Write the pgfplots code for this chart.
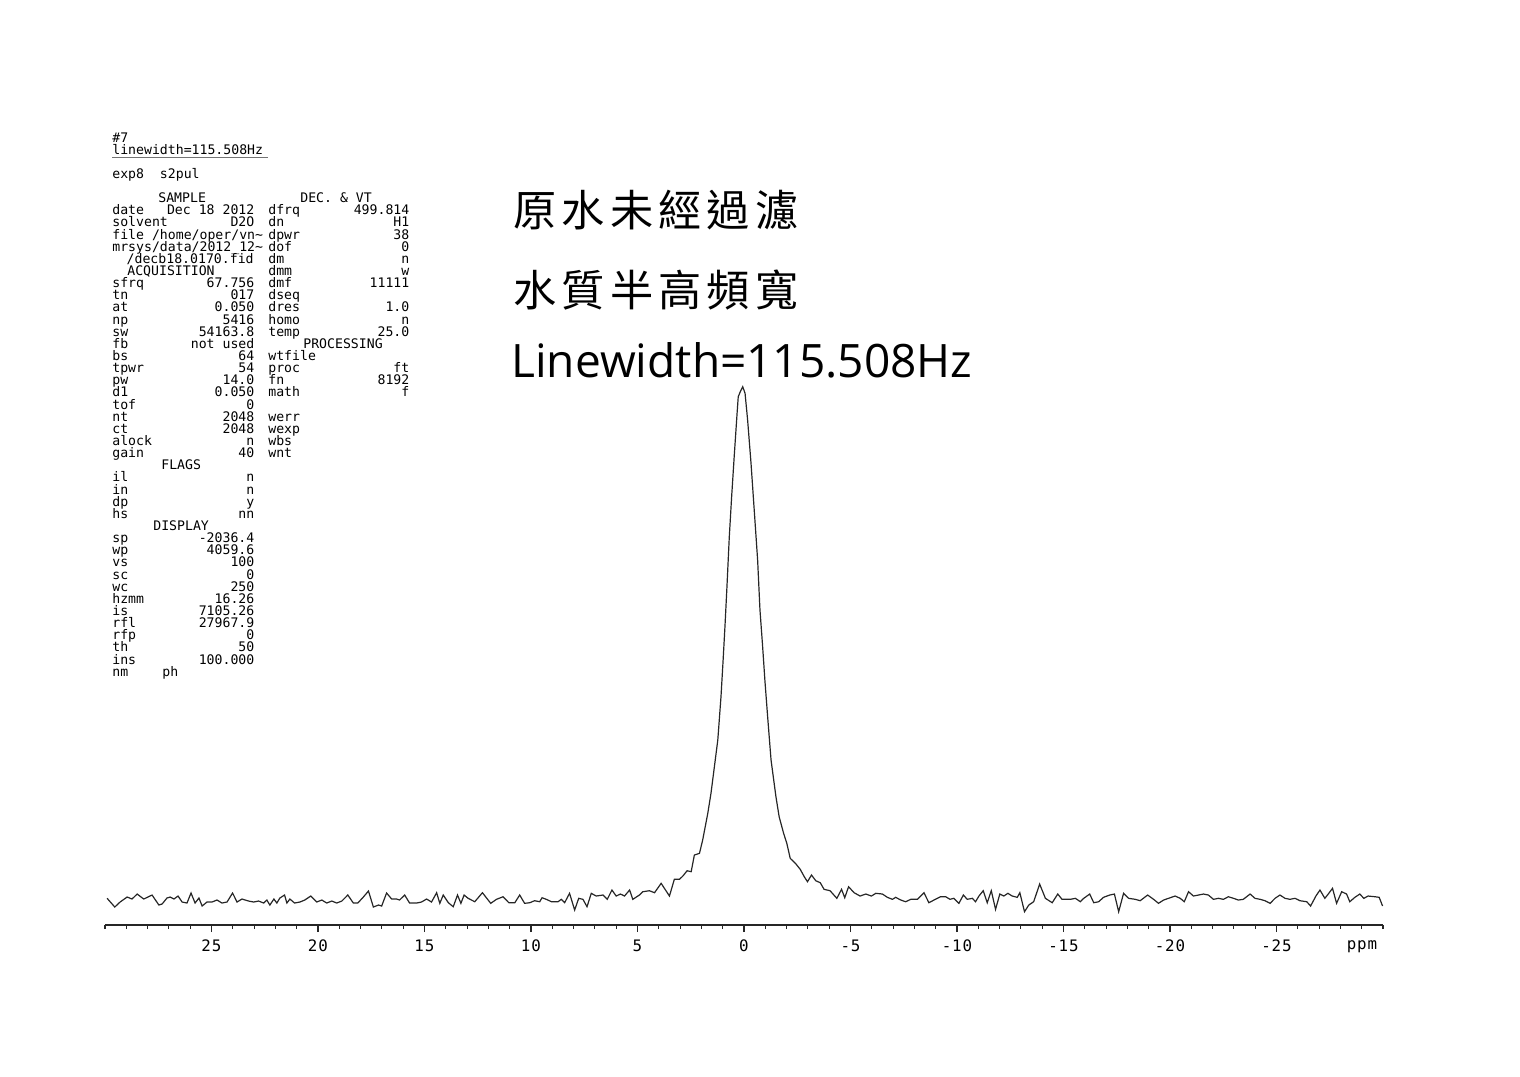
\documentclass[border=0pt]{standalone}
\usepackage{pgfplots}
\pgfplotsset{compat=1.18}
\usepackage{fontspec}
\setmonofont{DejaVu Sans Mono}
\newfontfamily\cjktitle[LetterSpace=12]{Noto Sans CJK TC}
\newfontfamily\latintitle{Open Sans}
\newfontfamily\tickfamily[LetterSpace=6]{DejaVu Sans Mono}
\newlength\pxu \setlength\pxu{0.2mm}
\newcommand\pfont{\ttfamily\fontsize{7.5pt}{7.5pt}\selectfont}
\newcommand\tfont{\tickfamily\fontsize{9pt}{9pt}\selectfont}
% parameter listing helpers (pixel coordinates, y downward)
\newcommand\Lrow[3]{\node[anchor=base west,inner sep=0pt,font=\pfont] at (112,{142+12.14*#1}) {\makebox[142\pxu][l]{#2\hfill #3}};}
\newcommand\Rrow[3]{\node[anchor=base west,inner sep=0pt,font=\pfont] at (268,{142+12.14*#1}) {\makebox[141\pxu][l]{#2\hfill #3}};}
\newcommand\Trow[3]{\node[anchor=base west,inner sep=0pt,font=\pfont] at (#2,{142+12.14*#1}) {#3};}
\begin{document}
\begin{tikzpicture}
\begin{scope}[x=0.2mm,y=-0.2mm]
\path[use as bounding box] (0,0) rectangle (1520,1076);
% header lines
\Trow{0}{112}{\#7}
\Trow{1}{112}{linewidth=115.508Hz}
\draw[black!55, line width=0.15mm] (112,157) -- (268,157);
\Trow{3}{112}{exp8\ \ s2pul}
\Trow{5}{158}{SAMPLE}
\Trow{5}{300}{DEC. \& VT}
\Lrow{6}{date}{Dec 18 2012}
\Lrow{7}{solvent}{D2O}
\Trow{8}{112}{file /home/oper/vn\textasciitilde}
\Trow{9}{112}{mrsys/data/2012\_12\textasciitilde}
\node[anchor=base east,inner sep=0pt,font=\pfont] at (254,{142+12.14*10}) {/decb18.0170.fid};
\Trow{11}{127}{ACQUISITION}
\Lrow{12}{sfrq}{67.756}
\Lrow{13}{tn}{017}
\Lrow{14}{at}{0.050}
\Lrow{15}{np}{5416}
\Lrow{16}{sw}{54163.8}
\Lrow{17}{fb}{not used}
\Lrow{18}{bs}{64}
\Lrow{19}{tpwr}{54}
\Lrow{20}{pw}{14.0}
\Lrow{21}{d1}{0.050}
\Lrow{22}{tof}{0}
\Lrow{23}{nt}{2048}
\Lrow{24}{ct}{2048}
\Lrow{25}{alock}{n}
\Lrow{26}{gain}{40}
\Trow{27}{161}{FLAGS}
\Lrow{28}{il}{n}
\Lrow{29}{in}{n}
\Lrow{30}{dp}{y}
\Lrow{31}{hs}{nn}
\Trow{32}{153}{DISPLAY}
\Lrow{33}{sp}{-2036.4}
\Lrow{34}{wp}{4059.6}
\Lrow{35}{vs}{100}
\Lrow{36}{sc}{0}
\Lrow{37}{wc}{250}
\Lrow{38}{hzmm}{16.26}
\Lrow{39}{is}{7105.26}
\Lrow{40}{rfl}{27967.9}
\Lrow{41}{rfp}{0}
\Lrow{42}{th}{50}
\Lrow{43}{ins}{100.000}
\Trow{44}{112}{nm}
\Trow{44}{162}{ph}
% right column
\Rrow{6}{dfrq}{499.814}
\Rrow{7}{dn}{H1}
\Rrow{8}{dpwr}{38}
\Rrow{9}{dof}{0}
\Rrow{10}{dm}{n}
\Rrow{11}{dmm}{w}
\Rrow{12}{dmf}{11111}
\Rrow{13}{dseq}{}
\Rrow{14}{dres}{1.0}
\Rrow{15}{homo}{n}
\Rrow{16}{temp}{25.0}
\Trow{17}{303}{PROCESSING}
\Rrow{18}{wtfile}{}
\Rrow{19}{proc}{ft}
\Rrow{20}{fn}{8192}
\Rrow{21}{math}{f}
\Rrow{23}{werr}{}
\Rrow{24}{wexp}{}
\Rrow{25}{wbs}{}
\Rrow{26}{wnt}{}
% titles
\node[anchor=base west,inner sep=0pt,font=\cjktitle\fontsize{24.6pt}{24.6pt}\selectfont] at (513,226) {原水未經過濾};
\node[anchor=base west,inner sep=0pt,font=\cjktitle\fontsize{24.6pt}{24.6pt}\selectfont] at (513,306) {水質半高頻寬};
\node[anchor=base west,inner sep=0pt,font=\latintitle\fontsize{26.2pt}{26.2pt}\selectfont] at (511,377) {Linewidth=115.508Hz};
% ppm label
\node[anchor=base,inner sep=0pt,font=\tfont] at (1362,949) {ppm};
\end{scope}
\begin{axis}[
  at={(21mm,-185mm)}, anchor=south west,
  scale only axis, width=255.6mm, height=107.8mm,
  xmin=-30, xmax=30, x dir=reverse,
  ymin=-27, ymax=512,
  axis x line*=bottom, axis y line=none, ytick=\empty,
  xtick={-25,-20,-15,-10,-5,0,5,10,15,20,25},
  xticklabels={-25,-20,-15,-10,-5,0,5,10,15,20,25},
  minor xtick={-30,-29,...,30},
  tick align=outside,
  major tick length=1.4mm, minor tick length=0.8mm,
  tick style={black!85, line width=0.22mm},
  x axis line style={black!85, line width=0.3mm},
  xticklabel style={font=\tfont, anchor=north, inner sep=0pt, yshift=-1.5mm},
  clip=false,
]
\addplot[black!85, line width=0.24mm, mark=none] coordinates {
(29.90,-0.3)(29.54,-9)(29.29,-4)(28.96,1)(28.73,-1)(28.49,4)(28.18,-1)(27.79,3)(27.47,-7)(27.32,-6)(27.09,0)(26.94,1)(26.76,-1)(26.57,2)(26.38,-4)(26.15,-5)(25.96,5)(25.77,-5)(25.59,0)(25.44,-8)(25.21,-4)(24.98,-4)(24.74,-2)(24.51,-5)(24.27,-4)(24.01,5)(23.80,-4)(23.57,-1)(23.26,-3)(23.02,-4)(22.79,-3)(22.55,-5)(22.40,-2)(22.26,-7)(22.07,-1)(21.93,-5)(21.79,0)(21.57,3)(21.46,-5)(21.32,-1)(21.10,-5)(20.85,-4)(20.62,-2)(20.34,2)(20.06,-4)(19.82,-2)(19.59,-5)(19.35,-3)(19.12,-5)(18.88,-3)(18.60,3)(18.34,-5)(18.13,-5)(17.87,1)(17.63,7)(17.40,-9)(17.16,-7)(17.01,-8)(16.78,5)(16.54,-1)(16.31,-1)(16.17,-2)(15.93,3)(15.70,-5)(15.37,-5)(15.14,-4)(14.90,-1)(14.67,-4)(14.43,5.3)(14.28,-5.3)(14.12,3)(13.88,-4.7)(13.65,-8.7)(13.45,3)(13.29,-5.3)(13.14,3)(12.95,-0.3)(12.64,-3.7)(12.28,5.3)(11.89,-5.3)(11.62,-1.3)(11.31,1.3)(11.04,-4.7)(10.76,-4.7)(10.53,3)(10.30,-5.3)(10.06,-4.7)(9.83,-2.7)(9.59,-3.7)(9.48,0.3)(9.28,-1.3)(9.04,-3.7)(8.73,-3.7)(8.58,-1.3)(8.42,-4.7)(8.19,4.7)(7.95,-12)(7.76,-0.3)(7.56,-1.3)(7.37,-8.7)(7.17,4.7)(6.94,2)(6.62,3)(6.42,-1.3)(6.20,8)(6.00,2)(5.80,4)(5.61,2)(5.37,8)(5.22,-1.3)(4.91,3)(4.75,6.3)(4.44,7.3)(4.20,5.3)(3.89,14.7)(3.50,2)(3.27,18.7)(3.03,18.7)(2.87,22)(2.67,27.3)(2.48,26.3)(2.33,43)(2.09,44.7)(1.94,58)(1.70,84.7)(1.55,104.7)(1.39,131.3)(1.23,158)(1.08,201.3)(0.98,238)(0.89,273)(0.80,311.3)(0.69,361.3)(0.58,401.3)(0.45,444.7)(0.33,483)(0.27,501.3)(0.16,507)(0.06,511.3)(-0.05,504.7)(-0.17,478)(-0.33,434.7)(-0.48,388)(-0.64,338)(-0.75,288)(-0.87,253)(-0.98,218)(-1.11,181.3)(-1.27,138)(-1.50,101.3)(-1.65,81.3)(-1.86,64.7)(-2.01,54.7)(-2.17,39.7)(-2.44,34)(-2.64,28.7)(-2.83,21.3)(-2.98,16.3)(-3.17,23)(-3.37,17.3)(-3.58,15.3)(-3.76,8.7)(-4.04,7.3)(-4.36,-0.3)(-4.58,8.7)(-4.73,0.3)(-4.91,11.3)(-5.17,5.3)(-5.45,2)(-5.72,4)(-5.98,2)(-6.19,4.7)(-6.50,4)(-6.73,0.7)(-6.97,-1.3)(-7.12,0.7)(-7.36,-2)(-7.59,-3.7)(-7.83,-1.3)(-8.14,-1.3)(-8.45,5.3)(-8.68,-4.7)(-8.92,-2)(-9.23,1.3)(-9.47,1.3)(-9.67,-1.3)(-9.85,-0.3)(-10.09,-5.3)(-10.30,3)(-10.48,-1.3)(-10.72,-0.3)(-10.87,-3.7)(-11.03,2)(-11.23,7.3)(-11.42,-4.7)(-11.61,7.3)(-11.81,-11.3)(-12.01,4)(-12.20,2)(-12.39,4.7)(-12.59,2)(-12.83,0.7)(-12.95,5.3)(-13.17,-13.7)(-13.37,-7)(-13.60,-3.7)(-13.88,14)(-14.15,-0.3)(-14.47,-4.7)(-14.73,4)(-14.93,-1.3)(-15.32,-1.3)(-15.56,-0.3)(-15.79,-3.7)(-15.95,-0.3)(-16.23,4)(-16.42,-4.7)(-16.65,-3.7)(-16.88,0.7)(-17.17,3)(-17.39,4)(-17.59,-13.7)(-17.82,4.7)(-18.06,-0.3)(-18.37,-1.3)(-18.60,-2.7)(-18.95,3)(-19.23,-1.3)(-19.46,-5.3)(-19.70,-2)(-19.93,-0.3)(-20.24,2)(-20.48,-0.3)(-20.67,-3.7)(-20.87,6.3)(-21.10,2)(-21.34,3)(-21.57,4)(-21.80,3)(-22.04,-1.3)(-22.27,-0.3)(-22.51,-1.3)(-22.74,1.3)(-22.98,-0.3)(-23.21,-2)(-23.44,-1.3)(-23.76,4)(-23.99,-0.3)(-24.23,-1.3)(-24.46,-2.7)(-24.70,-5.3)(-24.93,-0.3)(-25.16,3)(-25.40,-0.3)(-25.63,-1.3)(-25.87,-0.3)(-26.10,-2.7)(-26.42,-3.7)(-26.60,-8)(-26.85,2)(-27.04,8)(-27.27,-0.3)(-27.43,4)(-27.63,9.7)(-27.82,-5.3)(-28.06,6.3)(-28.29,4)(-28.44,-3.7)(-28.68,0.7)(-28.91,4)(-29.10,-0.3)(-29.30,2)(-29.62,1.3)(-29.82,0.7)(-29.98,-8)
};
\end{axis}
\end{tikzpicture}
\end{document}
